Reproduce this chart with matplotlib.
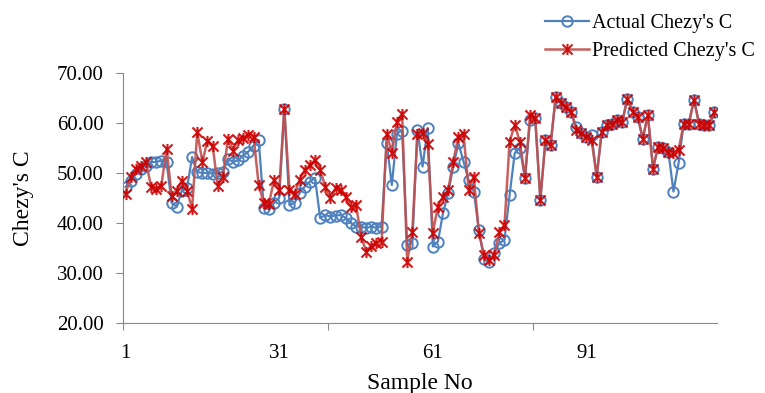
import numpy as np
import matplotlib
matplotlib.use("Agg")
import matplotlib.pyplot as plt
from matplotlib.path import Path

plt.rcParams['font.family'] = ['Liberation Serif', 'DejaVu Serif']

# values (sample 1..N)
actual = [47.2, 48.5, 49.8, 50.9, 51.5, 52.2, 52.2, 52.5, 52.2, 44.0,
          43.3, 46.5, 47.0, 53.2, 50.2, 50.0, 50.0, 49.9, 50.0, 50.2,
          52.9, 52.2, 52.6, 53.5, 54.3, 55.5, 56.6, 43.0, 42.8, 44.0,
          45.0, 62.8, 43.6, 44.0, 46.0, 47.3, 48.3, 49.0, 41.0, 41.6,
          41.3, 41.5, 41.6, 41.0, 40.0, 39.3, 39.3, 39.0, 39.3, 39.0,
          39.3, 56.0, 47.6, 57.9, 58.5, 35.6, 36.0, 58.6, 51.3, 59.0,
          35.3, 36.3, 42.0, 46.0, 51.3, 56.0, 52.3, 48.6, 46.3, 38.6,
          32.8, 32.2, 34.0, 36.0, 36.6, 45.6, 54.0, 55.0, 49.0, 60.6,
          61.0, 44.6, 56.6, 55.6, 65.3, 64.0, 63.2, 62.3, 59.3, 58.0,
          57.3, 57.6, 49.3, 58.3, 59.6, 59.9, 60.6, 60.3, 64.9, 62.3,
          61.3, 56.9, 61.6, 50.9, 55.3, 55.0, 54.3, 46.3, 52.0, 59.9,
          59.9, 64.6, 59.9, 59.6, 59.6, 62.3]
predicted = [45.9, 49.2, 50.9, 51.5, 52.2, 47.2, 46.9, 47.5, 54.9, 45.5,
             46.5, 48.5, 46.5, 42.9, 58.2, 52.2, 56.5, 55.5, 47.5, 49.2,
             56.9, 54.5, 56.6, 57.0, 57.6, 57.3, 47.6, 44.0, 43.9, 48.6,
             46.6, 62.9, 46.6, 45.9, 48.6, 50.6, 51.6, 52.6, 50.6, 47.3,
             45.0, 47.0, 46.6, 45.3, 43.3, 43.6, 37.3, 34.3, 35.5, 36.0,
             36.3, 57.9, 54.0, 60.3, 61.9, 32.3, 38.3, 57.9, 58.0, 55.9,
             38.0, 43.3, 45.3, 46.6, 52.3, 57.3, 57.9, 46.6, 49.3, 38.0,
             33.6, 32.6, 33.6, 38.3, 39.6, 56.3, 59.6, 56.3, 49.0, 61.6,
             61.0, 44.6, 56.6, 55.6, 65.3, 64.0, 63.2, 62.3, 58.6, 58.0,
             57.3, 56.6, 49.3, 58.3, 59.6, 59.9, 60.6, 60.3, 64.9, 62.3,
             61.3, 56.9, 61.6, 50.9, 55.3, 55.0, 54.3, 54.0, 54.6, 59.9,
             59.9, 64.6, 59.9, 59.6, 59.6, 62.3]
label_samples = [1, 31, 61, 91]
yticks = [20, 30, 40, 50, 60, 70]

n = len(actual)
samples = np.arange(1, n + 1)

# excel style star marker: X with a vertical bar
star = Path([(-1, -1), (1, 1), (-1, 1), (1, -1), (0, -1.1), (0, 1.1)],
            [Path.MOVETO, Path.LINETO] * 3)

fig = plt.figure(figsize=(7.65, 3.93), dpi=100)
ax = fig.add_axes([123 / 765, 1 - 323 / 393, (717 - 123) / 765, 250 / 393])

ax.plot(samples, actual, color='#4F81BD', lw=1.6, marker='o', ms=7.5,
        mfc='none', mec='#4F81BD', mew=1.4, label="Actual Chezy's C", zorder=2)
ax.plot(samples, predicted, color='#C0504D', lw=1.8, alpha=0.9, marker=star,
        ms=8, mfc='none', mec='#CC0000', mew=1.5, label="Predicted Chezy's C", zorder=3)

ax.set_xlim(0.5, n + 0.5)
ax.set_ylim(20, 70)
ax.set_yticks(yticks)
ax.set_yticklabels([f"{v:.2f}" for v in yticks])

# tick marks between categories every 40, labels every 30
ax.set_xticks(np.arange(0.5, n + 1, 40))
ax.set_xticklabels([])
ax.set_xticks(label_samples, minor=True)
ax.set_xticklabels([str(s) for s in label_samples], minor=True)
ax.tick_params(axis='x', which='major', direction='out', length=5, color='#888888')
ax.tick_params(axis='x', which='minor', length=0, pad=15, labelsize=15)
ax.tick_params(axis='y', direction='out', length=5, color='#888888', pad=9, labelsize=15)

for s in ['top', 'right']:
    ax.spines[s].set_visible(False)
for s in ['left', 'bottom']:
    ax.spines[s].set_color('#888888')

ax.set_xlabel('Sample No', fontsize=17, labelpad=7)
ax.set_ylabel("Chezy's C", fontsize=17, labelpad=16)

fig.legend(loc='upper left', bbox_to_anchor=(527 / 765, 1.01), frameon=False,
           fontsize=14.5, handlelength=2.2, handletextpad=0.15, labelspacing=0.45)

fig.savefig('out.png', dpi=100)
